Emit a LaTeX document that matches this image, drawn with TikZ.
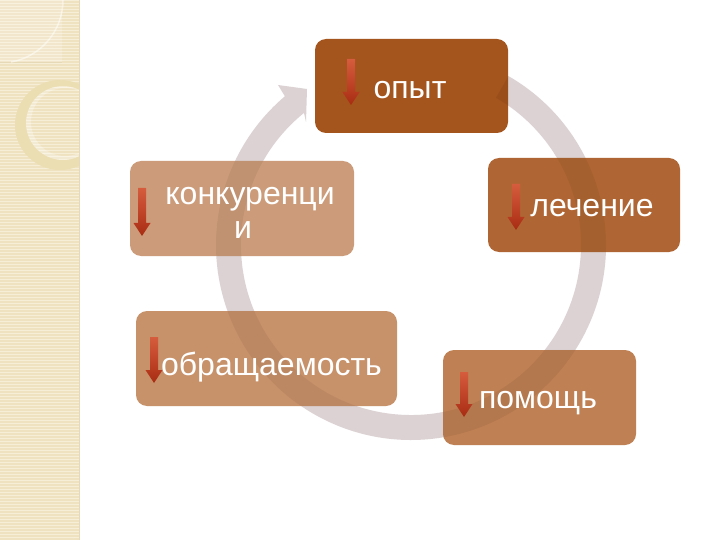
\documentclass[tikz,border=0pt]{standalone}
\usepackage{fontspec}
\setmainfont{Liberation Sans}
\definecolor{stripC}{RGB}{239,226,192}
\definecolor{stripL}{RGB}{246,238,214}
\definecolor{stripE}{RGB}{230,217,182}
\definecolor{crescC}{RGB}{235,222,178}
\definecolor{ringC}{RGB}{220,210,212}
\definecolor{opytC}{RGB}{164,84,29}
\definecolor{lechC}{RGB}{176,102,52}
\definecolor{pomC}{RGB}{191,128,83}
\definecolor{obrC}{RGB}{199,145,106}
\definecolor{konC}{RGB}{204,156,122}
\definecolor{arrTop}{RGB}{214,92,62}
\definecolor{arrBot}{RGB}{168,44,18}
\newcommand\redarrow[3]{%
  \shade[top color=arrTop, bottom color=arrBot]
    (#1-4,#2) -- (#1+4,#2) -- (#1+4,#3-13) -- (#1+8.5,#3-13) -- (#1,#3)
    -- (#1-8.5,#3-13) -- (#1-4,#3-13) -- cycle;}
\begin{document}
\begin{tikzpicture}[x=1pt,y=-1pt,
  box/.style={rounded corners=11, inner sep=0, draw=none, fill opacity=1},
  lbl/.style={text=white, inner sep=0, anchor=base, font=\fontsize{32}{35}\selectfont}]
\useasboundingbox (0,0) rectangle (720,540);
\fill[white] (0,0) rectangle (720,540);
% decorative strip
\begin{scope}
  \clip (0,0) rectangle (79,540);
  \fill[stripC] (0,0) rectangle (79,540);
  \foreach \y in {0,3,...,540} \draw[stripL, line width=1] (0,\y+0.5) -- (79,\y+0.5);
  \fill[white, opacity=.2] (0,0) rectangle (62,62);
  \draw[stripE, line width=.8] (0,62) -- (62,62);
  \draw[white, opacity=.5, line width=1.5] (63,0) arc[start angle=0,end angle=80,radius=63];
  \fill[crescC, even odd rule] (60,125) circle[radius=45] (63,123) circle[radius=37];
  \fill[white, opacity=.3, even odd rule] (63,123) circle[radius=37] (65,122) circle[radius=34];
\end{scope}
\draw[stripE, line width=1] (79,0) -- (79,540);
% cycle ring
\fill[ringC] (508.5,76.1) arc[start angle=-60,end angle=229.7,radius=195]
  -- (278,85) -- (307,89) -- (306,122) -- (304,112.9)
  arc[start angle=231,end angle=-60,radius=170] -- cycle;
% boxes
\node[box, fill=opytC, minimum width=193, minimum height=94] (opyt) at (411.5,86) {};
\node[box, fill=lechC, minimum width=192, minimum height=94] (lech) at (584,205) {};
\node[box, fill=pomC, minimum width=193, minimum height=95] (pom) at (539.5,397.5) {};
\node[box, fill=obrC, minimum width=261, minimum height=95] (obr) at (266.5,358.5) {};
\node[box, fill=konC, minimum width=224, minimum height=95] (kon) at (242,208.5) {};
% ring faintly through boxes
\begin{scope}
  \clip[rounded corners=11]
    (opyt.north west) rectangle (opyt.south east)
    (lech.north west) rectangle (lech.south east)
    (pom.north west) rectangle (pom.south east)
    (obr.north west) rectangle (obr.south east)
    (kon.north west) rectangle (kon.south east);
  \fill[black, opacity=.06] (508.5,76.1) arc[start angle=-60,end angle=229.7,radius=195]
    -- (278,85) -- (307,89) -- (306,122) -- (304,112.9)
    arc[start angle=231,end angle=-60,radius=170] -- cycle;
\end{scope}
% small red arrows
\redarrow{351}{59}{105}
\redarrow{516}{184}{230}
\redarrow{464}{372}{417}
\redarrow{154}{337}{383}
\redarrow{142}{188}{236}
% labels
\node[lbl] (opytT) at (410,99) {опыт};
\node[lbl] (lechT) at (592,216) {лечение};
\node[lbl] (pomT) at (538,408) {помощь};
\node[lbl] (obrT) at (271.5,375) {обращаемость};
\node[lbl] (konT1) at (250,205) {конкуренци};
\node[lbl] (konT2) at (243,239) {и};
\end{tikzpicture}
\end{document}
